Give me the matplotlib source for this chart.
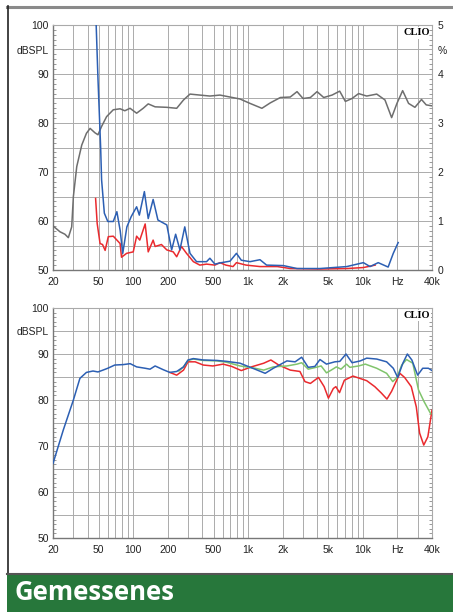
import numpy as np
import matplotlib
matplotlib.use("Agg")
import matplotlib.pyplot as plt
from matplotlib.ticker import FixedLocator, FixedFormatter, NullFormatter

# --- data ---
# top panel: frequency response (dB) and distortion (%)
f_resp1 = [20, 23, 25.4, 27.2, 29.1, 30.1, 32.2, 35.6, 39.1, 42.1, 46.4, 49.3, 53, 58.6, 67, 76.8,
           84.4, 93.8, 107, 122, 135, 155, 196, 239, 274, 312, 380, 465, 569, 696, 851, 1040, 1320,
           1560, 1910, 2330, 2670, 3010, 3490, 3990, 4560, 5390, 6280, 7040, 8040, 9180, 10800,
           13200, 15580, 17800, 19800, 22200, 25000, 28400, 32400, 35600, 40000]
db_resp1 = [59.0, 57.8, 57.3, 56.6, 58.8, 65.0, 71.1, 75.5, 77.9, 78.9, 78.0, 77.6, 79.3, 81.3, 82.7,
            82.9, 82.5, 83.0, 82.0, 83.0, 83.9, 83.3, 83.2, 83.0, 84.7, 85.9, 85.7, 85.5, 85.7, 85.3,
            84.9, 84.0, 83.0, 84.1, 85.2, 85.3, 86.4, 85.0, 85.2, 86.4, 85.2, 85.7, 86.5, 84.4, 85.0,
            86.0, 85.5, 85.9, 84.7, 81.1, 84.0, 86.6, 84.0, 83.2, 84.8, 83.7, 83.5]

f_thd_blue = [46, 49.3, 52, 53, 56, 60, 67, 72, 77, 81, 88, 96, 107, 113, 125, 135, 149, 164, 196,
              216, 234, 255, 281, 312, 356, 435, 465, 514, 587, 696, 792, 873, 1040, 1270, 1450,
              2030, 2670, 4230, 7240, 10100, 11550, 13600, 16600, 18400, 20300]
pct_thd_blue = [6.0, 3.9, 2.5, 1.84, 1.16, 0.99, 0.99, 1.19, 0.8, 0.34, 0.88, 1.09, 1.29, 1.12, 1.6,
                1.05, 1.44, 1.02, 0.92, 0.41, 0.73, 0.41, 0.88, 0.34, 0.17, 0.17, 0.24, 0.12, 0.15,
                0.18, 0.34, 0.2, 0.17, 0.21, 0.1, 0.09, 0.03, 0.03, 0.07, 0.15, 0.07, 0.15, 0.06,
                0.34, 0.56]

f_thd_red = [47, 48.5, 51.4, 54, 56.9, 60.6, 67, 76.8, 79, 87.5, 100, 107, 114, 127, 135, 149, 155,
             176, 196, 223, 239, 263, 291, 334, 380, 435, 514, 569, 640, 740, 792, 960, 1270, 1800,
             2330, 4230, 7240, 10100, 12800]
pct_thd_red = [1.46, 0.95, 0.54, 0.52, 0.4, 0.68, 0.69, 0.54, 0.26, 0.34, 0.37, 0.69, 0.61, 0.94,
               0.37, 0.61, 0.48, 0.52, 0.41, 0.37, 0.27, 0.48, 0.34, 0.17, 0.1, 0.12, 0.1, 0.15, 0.1,
               0.07, 0.15, 0.1, 0.07, 0.07, 0.03, 0.02, 0.03, 0.05, 0.1]

# bottom panel: responses on axis (blue), 15 deg (green), 30 deg (red)
f_blue2 = [20, 24.6, 30.1, 34.3, 39.1, 44.6, 49.3, 54.5, 60, 69, 82, 94, 107, 127, 140, 155, 182,
           208, 239, 274, 300, 334, 407, 535, 651, 851, 1150, 1410, 1660, 2180, 2570, 2930, 3340,
           3820, 4230, 4820, 5700, 6300, 7130, 8050, 9500, 10800, 13200, 16100, 18400, 20100,
           22300, 24400, 26700, 30000, 33200, 37200, 40000]
db_blue2 = [66.2, 73.5, 80.0, 84.7, 86.0, 86.3, 86.1, 86.5, 86.9, 87.6, 87.7, 87.9, 87.2, 86.9, 86.7,
            87.4, 86.6, 86.0, 86.2, 87.2, 88.7, 89.0, 88.7, 88.6, 88.4, 88.0, 86.7, 85.8, 86.9,
            88.5, 88.3, 89.3, 87.1, 87.3, 88.8, 87.8, 88.3, 88.4, 90.0, 88.1, 88.5, 89.1, 88.9,
            88.3, 86.9, 84.9, 88.0, 90.0, 88.7, 85.4, 86.9, 86.9, 86.4]

f_green2 = [250, 274, 300, 334, 407, 535, 651, 851, 1150, 1370, 1660, 2180, 2670, 2930, 3340, 3900,
            4330, 4820, 5300, 5880, 6450, 7200, 7700, 9180, 10500, 13200, 16100, 18200, 19800,
            21800, 24000, 27200, 30500, 34200, 39000]
db_green2 = [86.3, 87.2, 88.6, 88.9, 88.6, 88.5, 88.2, 87.4, 86.9, 86.5, 87.2, 87.4, 87.8, 88.1,
             86.7, 87.1, 87.4, 85.9, 86.5, 87.2, 86.7, 87.8, 87.1, 87.4, 87.8, 86.9, 85.8, 84.0,
             84.9, 87.6, 88.8, 88.0, 82.2, 79.6, 77.0]

f_red2 = [208, 239, 274, 300, 346, 407, 494, 606, 720, 873, 1070, 1370, 1580, 1850, 2330, 2830, 3130,
          3490, 4100, 4600, 5010, 5530, 5820, 6260, 6900, 8200, 8900, 10800, 12700, 14500, 16200,
          17800, 21000, 23100, 26400, 29200, 31200, 33900, 36800, 40000]
db_red2 = [86.0, 85.4, 86.5, 88.3, 88.3, 87.6, 87.4, 87.8, 87.3, 86.4, 87.2, 88.0, 88.7, 87.6, 86.5,
           86.2, 84.0, 83.6, 84.9, 82.9, 80.4, 82.5, 82.9, 81.6, 84.3, 85.2, 84.9, 84.2, 82.9, 81.5,
           80.2, 81.9, 85.8, 84.9, 82.9, 78.5, 72.8, 70.2, 72.0, 77.8]

xtick_pos = [20, 50, 100, 200, 500, 1000, 2000, 5000, 10000, 20000, 40000]
xtick_lab = ['20', '50', '100', '200', '500', '1k', '2k', '5k', '10k', 'Hz', '40k']

GRAY = '#6e6e6e'
BLUE = '#2c5fb3'
RED = '#ea2a2e'
GREEN = '#80c46c'
GRID = '#ababab'

plt.rcParams['font.family'] = ['Liberation Sans', 'DejaVu Sans']

fig = plt.figure(figsize=(4.53, 6.12), dpi=100)
fig.patch.set_facecolor('white')

grid_x = []
for dec in [10, 100, 1000, 10000]:
    for m in range(1, 10):
        v = m * dec
        if 20 <= v <= 40000:
            grid_x.append(v)


def style_axis(ax):
    ax.set_xscale('log')
    ax.set_xlim(20, 40000)
    ax.set_ylim(50, 100)
    ax.xaxis.set_major_locator(FixedLocator(xtick_pos))
    ax.xaxis.set_major_formatter(FixedFormatter(xtick_lab))
    ax.xaxis.set_minor_locator(FixedLocator(grid_x))
    ax.xaxis.set_minor_formatter(NullFormatter())
    ax.tick_params(axis='x', which='both', length=0, pad=5, labelsize=7.5, colors='#222222')
    ymaj = list(range(50, 101, 5))
    ylab = [str(v) if v % 10 == 0 else ('dBSPL' if v == 95 else '') for v in ymaj]
    ax.yaxis.set_major_locator(FixedLocator(ymaj))
    ax.yaxis.set_major_formatter(FixedFormatter(ylab))
    ax.yaxis.set_minor_locator(FixedLocator(range(50, 101)))
    ax.tick_params(axis='y', which='major', length=0, pad=3, labelsize=7.5, labelcolor='#222222')
    ax.tick_params(axis='y', which='minor', direction='in', length=2.5, width=0.6, color='#888888')
    ax.grid(True, which='both', axis='x', color=GRID, lw=0.7)
    ax.grid(True, which='major', axis='y', color=GRID, lw=0.7)
    for s in ['left', 'bottom']:
        ax.spines[s].set_color('#777777')
        ax.spines[s].set_linewidth(1.0)
    for s in ['top', 'right']:
        ax.spines[s].set_color('#aaaaaa')
        ax.spines[s].set_linewidth(0.8)
    ax.text(0.994, 0.986, 'CLIO', transform=ax.transAxes, ha='right', va='top',
            fontsize=7.5, fontweight='bold', family='Liberation Serif', zorder=5,
            bbox=dict(facecolor='white', edgecolor='none', pad=0.8))


# top panel
ax1 = fig.add_axes([53 / 453, 1 - 270 / 612, 379 / 453, 245 / 612])
style_axis(ax1)
ax1.plot(f_resp1, db_resp1, color=GRAY, lw=1.1, zorder=3)

ax1r = ax1.twinx()
ax1r.set_ylim(0, 5)
ax1r.plot(f_thd_red, pct_thd_red, color=RED, lw=1.1, zorder=3)
ax1r.plot(f_thd_blue, pct_thd_blue, color=BLUE, lw=1.1, zorder=4)
rmaj = [i * 0.5 for i in range(11)]
rlab = [str(int(v)) if v == int(v) else ('%' if v == 4.5 else '') for v in rmaj]
ax1r.yaxis.set_major_locator(FixedLocator(rmaj))
ax1r.yaxis.set_major_formatter(FixedFormatter(rlab))
ax1r.yaxis.set_minor_locator(FixedLocator([i * 0.1 for i in range(51)]))
ax1r.tick_params(axis='y', which='major', length=0, pad=4, labelsize=7.5, labelcolor='#222222')
ax1r.tick_params(axis='y', which='minor', direction='in', length=2.5, width=0.6, color='#888888')
for s in ax1r.spines.values():
    s.set_visible(False)

# bottom panel
ax2 = fig.add_axes([53 / 453, 1 - 538 / 612, 379 / 453, 230 / 612])
style_axis(ax2)
ax2.yaxis.set_ticks_position('both')
ax2.plot(f_red2, db_red2, color=RED, lw=1.1, zorder=3)
ax2.plot(f_green2, db_green2, color=GREEN, lw=1.1, zorder=3)
ax2.plot(f_blue2, db_blue2, color=BLUE, lw=1.1, zorder=4)

# frame lines and banner
fig.add_artist(plt.Line2D([7 / 453, 1], [1 - 6.5 / 612] * 2, color='#8a8a8a', lw=2.2))
fig.add_artist(plt.Line2D([7.5 / 453] * 2, [1 - 6 / 612, 1 - 574 / 612], color='#222222', lw=1.2))
fig.add_artist(plt.Rectangle((7 / 453, 0), 1, 38 / 612, color='#27773b', lw=0))
fig.add_artist(plt.Line2D([7 / 453, 1], [38.5 / 612] * 2, color='#555555', lw=1.5))
fig.text(15 / 453, 19 / 612, 'Gemessenes', color='white', fontsize=18.5, fontweight='bold',
         family=['Open Sans', 'DejaVu Sans'], va='center', ha='left')

fig.savefig('out.png', dpi=100)
